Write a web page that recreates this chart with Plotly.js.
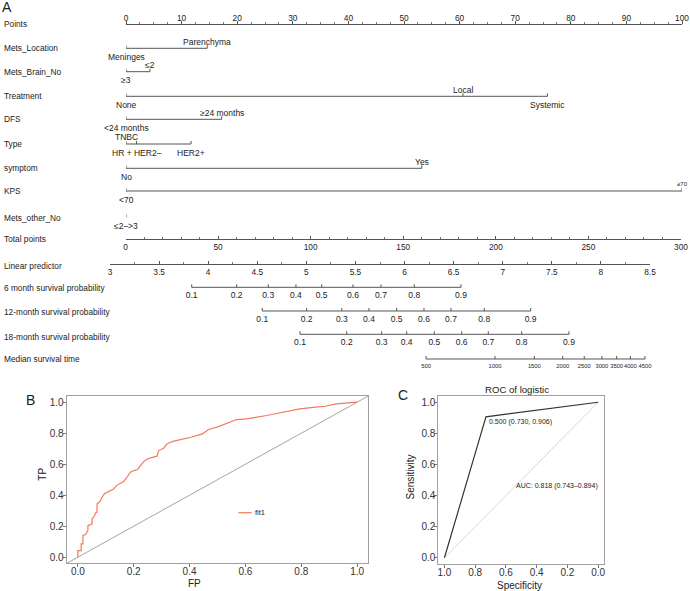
<!DOCTYPE html>
<html><head><meta charset="utf-8">
<script src="https://cdn.plot.ly/plotly-3.0.1.min.js"></script>
<style>html,body{margin:0;padding:0;background:#fff}</style>
</head><body><div id="chart" style="width:690px;height:591px"></div>
<script>
// ---------------- DATA ----------------
// Nomogram: categorical predictors, points per level
const metsLocationLevels = ["Meninges", "Parenchyma"];
const metsLocationPoints = [0, 14.6];
const metsBrainNoLevels = ["≥3", "≤2"];
const metsBrainNoPoints = [0, 4.3];
const treatmentLevels = ["None", "Local", "Systemic"];
const treatmentPoints = [0, 60.6, 75.8];
const dfsLevels = ["<24 months", "≥24 months"];
const dfsPoints = [0, 17.2];
const typeLevels = ["TNBC", "HR + HER2–", "HER2+"];
const typePoints = [0, 1.9, 11.7];
const symptomLevels = ["No", "Yes"];
const symptomPoints = [0, 53.2];
const kpsLevels = ["<70", "≥70"];
const kpsPoints = [0, 100];
const metsOtherLevels = ["≤2–>3"];
const metsOtherPoints = [0];

// Survival probability scales, positions on the linear predictor scale
const probLabels = ["0.1", "0.2", "0.3", "0.4", "0.5", "0.6", "0.7", "0.8", "0.9"];
const surv6LP  = [3.832, 4.290, 4.612, 4.894, 5.156, 5.475, 5.760, 6.099, 6.575];
const surv12LP = [4.551, 5.003, 5.361, 5.638, 5.920, 6.198, 6.473, 6.812, 7.285];
const surv18LP = [4.935, 5.411, 5.767, 6.022, 6.303, 6.582, 6.853, 7.193, 7.675];
const medianLabels = ["500", "1000", "1500", "2000", "2500", "3000", "3500", "4000", "4500"];
const medianLP = [6.219, 6.921, 7.322, 7.611, 7.830, 8.010, 8.160, 8.300, 8.449];

// Panel B ROC curve
const rocFP = [0, 0, 0.012, 0.012, 0.018, 0.018, 0.027, 0.031, 0.036, 0.036, 0.043, 0.051, 0.051, 0.060, 0.063, 0.068,
  0.069, 0.079, 0.087, 0.095, 0.105, 0.117, 0.129, 0.138, 0.149, 0.164, 0.176, 0.188, 0.200, 0.214, 0.224, 0.236,
  0.248, 0.265, 0.283, 0.289, 0.307, 0.319, 0.337, 0.367, 0.402, 0.444, 0.468, 0.498, 0.533, 0.569, 0.605, 0.640,
  0.676, 0.712, 0.748, 0.795, 0.843, 0.885, 0.926, 0.956, 1.0];
const rocTP = [0, 0.043, 0.043, 0.086, 0.086, 0.140, 0.146, 0.161, 0.172, 0.204, 0.209, 0.215, 0.247, 0.269, 0.286, 0.290,
  0.344, 0.359, 0.387, 0.409, 0.419, 0.430, 0.441, 0.462, 0.475, 0.488, 0.516, 0.548, 0.559, 0.566, 0.591, 0.617,
  0.634, 0.645, 0.652, 0.688, 0.703, 0.731, 0.746, 0.759, 0.772, 0.794, 0.824, 0.839, 0.865, 0.888, 0.892, 0.901,
  0.914, 0.927, 0.940, 0.957, 0.966, 0.974, 0.989, 0.995, 1.0];
const rocName = "fit1";

// Panel C logistic ROC
const logisticSpec = [1, 0.730, 0];
const logisticSens = [0, 0.906, 1];
const cutoffLabel = "0.500 (0.730, 0.906)";
const aucLabel = "AUC: 0.818 (0.743–0.894)";

// ---------------- DRAWING ----------------
const FONT = 'Liberation Sans, Arial, Helvetica, sans-serif';
const W = 690, H = 591, NOM_H = 375;
const px = v => v / W;
const py = v => 1 - v / H;
const LINE = '#555555';
const TXT = '#222222';

const ROW = {points: 24, loc: 48.3, brain: 71.7, treat: 96.3, dfs: 119.3, type: 144, symptom: 168.3,
  kps: 191, other: 217.5, total: 239, lp: 264, s6: 287.3, s12: 311, s18: 334.3, median: 359};

const traces = [];
const ann = [];
const base = {type: 'scatter', hoverinfo: 'skip', showlegend: false};

function tickTrace(xs, rowY, xa, len) {
  const tx = [], ty = [];
  xs.forEach(v => { tx.push(v, v, null); ty.push(rowY, rowY - len, null); });
  return Object.assign({}, base, {mode: 'lines', x: tx, y: ty, xaxis: xa, yaxis: 'y', line: {color: LINE, width: 1}});
}

function catRow(levels, pts, rowY, sides, sizes) {
  const lo = Math.min(...pts), hi = Math.max(...pts);
  traces.push(Object.assign({}, base, {mode: 'lines', x: [lo, hi], y: [rowY, rowY], xaxis: 'x', yaxis: 'y',
    line: {color: LINE, width: 1}}));
  traces.push(tickTrace(pts, rowY, 'x', 3));
  levels.forEach((lab, i) => {
    ann.push({text: lab, xref: 'x', yref: 'y', x: pts[i], y: sides[i] === 'a' ? rowY - 6.8 : rowY + 8.5,
      xanchor: 'center', yanchor: 'middle', showarrow: false,
      font: {family: FONT, size: sizes ? sizes[i] : 8.5, color: TXT}});
  });
}

function scaleRow(labels, lp, rowY, size) {
  traces.push(Object.assign({}, base, {mode: 'lines', x: [lp[0], lp[lp.length - 1]], y: [rowY, rowY],
    xaxis: 'x3', yaxis: 'y', line: {color: LINE, width: 1}}));
  traces.push(tickTrace(lp, rowY, 'x3', 3));
  traces.push(Object.assign({}, base, {mode: 'text', x: lp, y: lp.map(() => rowY + (size < 7 ? 8 : 9)), text: labels,
    xaxis: 'x3', yaxis: 'y', textposition: 'middle center', cliponaxis: false,
    textfont: {family: FONT, size: size, color: TXT}}));
}

catRow(metsLocationLevels, metsLocationPoints, ROW.loc, ['b', 'a']);
catRow(metsBrainNoLevels, metsBrainNoPoints, ROW.brain, ['b', 'a']);
catRow(treatmentLevels, treatmentPoints, ROW.treat, ['b', 'a', 'b']);
catRow(dfsLevels, dfsPoints, ROW.dfs, ['b', 'a']);
catRow(typeLevels, typePoints, ROW.type, ['a', 'b', 'b']);
catRow(symptomLevels, symptomPoints, ROW.symptom, ['b', 'a']);
catRow(kpsLevels, kpsPoints, ROW.kps, ['b', 'a'], [8.5, 6]);
catRow(metsOtherLevels, metsOtherPoints, ROW.other, ['b']);

// dummy trace so the total-points axis has a subplot
traces.push(Object.assign({}, base, {mode: 'none', x: [0, 300], y: [ROW.total, ROW.total], xaxis: 'x2', yaxis: 'y'}));

scaleRow(probLabels, surv6LP, ROW.s6, 8.5);
scaleRow(probLabels, surv12LP, ROW.s12, 8.5);
scaleRow(probLabels, surv18LP, ROW.s18, 8.5);
scaleRow(medianLabels, medianLP, ROW.median, 5.8);

// Panel B
traces.push(Object.assign({}, base, {mode: 'lines', x: [-0.04, 1.04], y: [-0.04, 1.04], xaxis: 'x4', yaxis: 'y4',
  line: {color: '#9a9a9a', width: 0.9}}));
traces.push(Object.assign({}, base, {mode: 'lines', name: rocName, x: rocFP, y: rocTP, xaxis: 'x4', yaxis: 'y4',
  line: {color: '#F3795C', width: 1.2}}));

// Panel C
traces.push(Object.assign({}, base, {mode: 'lines', x: [1, 0], y: [0, 1], xaxis: 'x5', yaxis: 'y5',
  line: {color: '#d2d2d2', width: 0.9}}));
traces.push(Object.assign({}, base, {mode: 'lines', x: logisticSpec, y: logisticSens, xaxis: 'x5', yaxis: 'y5',
  line: {color: '#333333', width: 1.2}}));

function scaleAxis(range, domPx, rowY, side, dtick, standoff) {
  const tk = side === 'top' ? 'outside' : 'inside';
  return {range: range, domain: [px(domPx[0]), px(domPx[1])], anchor: 'free', position: py(rowY), side: side,
    showline: true, linecolor: LINE, linewidth: 1, ticks: tk, ticklen: 3, tickcolor: LINE, tickwidth: 1,
    dtick: dtick[0], tick0: 0, minor: {dtick: dtick[1], ticks: tk, ticklen: 2, tickcolor: '#777777', showgrid: false},
    ticklabelstandoff: standoff || 0,
    showgrid: false, zeroline: false, tickfont: {family: FONT, size: 8.3, color: TXT}, fixedrange: true};
}

function rocAxis(range, domain, anchor, standoff) {
  return {range: range, domain: domain, anchor: anchor, showline: true, mirror: true, linecolor: '#a0a0a0',
    linewidth: 1, ticks: 'outside', ticklen: 3, tickcolor: '#777777', dtick: 0.2, tick0: 0, tickformat: '.1f',
    ticklabelstandoff: standoff,
    showgrid: false, zeroline: false, tickfont: {family: FONT, size: 10, color: '#333333'}, fixedrange: true};
}

const rowLabels = [
  ["Points", ROW.points], ["Mets_Location", ROW.loc], ["Mets_Brain_No", ROW.brain], ["Treatment", ROW.treat],
  ["DFS", ROW.dfs], ["Type", ROW.type], ["symptom", ROW.symptom], ["KPS", ROW.kps], ["Mets_other_No", ROW.other],
  ["Total points", ROW.total], ["Linear predictor", ROW.lp + 1.5], ["6 month survival probability", ROW.s6 + 1],
  ["12-month survival probability", ROW.s12 + 0.5], ["18-month survival probability", ROW.s18 + 2.5],
  ["Median survival time", ROW.median]
];

rowLabels.forEach(r => ann.push({text: r[0], xref: 'paper', yref: 'paper', x: px(2), y: py(r[1]),
  xanchor: 'left', yanchor: 'middle', showarrow: false, font: {family: FONT, size: 8.3, color: TXT}}));

function paperText(text, x, y, size, extra) {
  return Object.assign({text: text, xref: 'paper', yref: 'paper', x: px(x), y: py(y), xanchor: 'center',
    yanchor: 'middle', showarrow: false, font: {family: FONT, size: size, color: TXT}}, extra || {});
}
ann.push(paperText("A", 6.5, 7.5, 14));
ann.push(paperText("B", 30.5, 399.5, 14));
ann.push(paperText("C", 403.5, 394.7, 14));
ann.push(paperText("TP", 41.7, 474, 10, {textangle: -90}));
ann.push(paperText("FP", 194, 583, 10));
ann.push(paperText("Sensitivity", 410, 477.5, 10, {textangle: -90}));
ann.push(paperText("Specificity", 519.5, 585.5, 10));
ann.push(paperText("ROC of logistic", 517, 389.3, 9.6));
ann.push(paperText(rocName, 253.3, 512.7, 7.5, {xanchor: 'left'}));
ann.push({text: cutoffLabel, xref: 'x5', yref: 'y5', x: logisticSpec[1], y: logisticSens[1], xanchor: 'left',
  yanchor: 'middle', xshift: 1, yshift: -5, showarrow: false, font: {family: FONT, size: 7, color: TXT}});
ann.push({text: aucLabel, xref: 'x5', yref: 'y5', x: 0, y: 0.46, xanchor: 'right', yanchor: 'middle',
  xshift: 2, showarrow: false, font: {family: FONT, size: 7, color: TXT}});

const layout = {
  width: W, height: H, margin: {l: 0, r: 0, t: 0, b: 0, pad: 0},
  paper_bgcolor: '#ffffff', plot_bgcolor: 'rgba(0,0,0,0)', showlegend: false,
  font: {family: FONT, color: TXT},
  xaxis: scaleAxis([0, 100], [126, 682], ROW.points, 'top', [10, 2.5], -3),
  xaxis2: scaleAxis([0, 300], [125.5, 681], ROW.total, 'bottom', [50, 10], 0),
  xaxis3: scaleAxis([3, 8.5], [110, 650], ROW.lp, 'bottom', [0.5, 0.25], 0),
  yaxis: {domain: [py(NOM_H), 1], range: [NOM_H, 0], visible: false, anchor: 'free', position: 0, fixedrange: true},
  xaxis4: rocAxis([-0.04, 1.04], [px(66.7), px(368.3)], 'y4', -4),
  yaxis4: rocAxis([-0.04, 1.04], [py(563.4), py(396)], 'x4', -3),
  xaxis5: rocAxis([1.04, -0.04], [px(438.3), px(604.3)], 'y5', -4),
  yaxis5: rocAxis([-0.04, 1.04], [py(564), py(396)], 'x5', -3),
  annotations: ann,
  shapes: [{type: 'line', xref: 'paper', yref: 'paper', x0: px(238.3), x1: px(251.7), y0: py(512.7), y1: py(512.7),
    line: {color: '#F3795C', width: 1.2}}]
};

Plotly.newPlot('chart', traces, layout, {displayModeBar: false, staticPlot: true});
</script>
</body></html>
